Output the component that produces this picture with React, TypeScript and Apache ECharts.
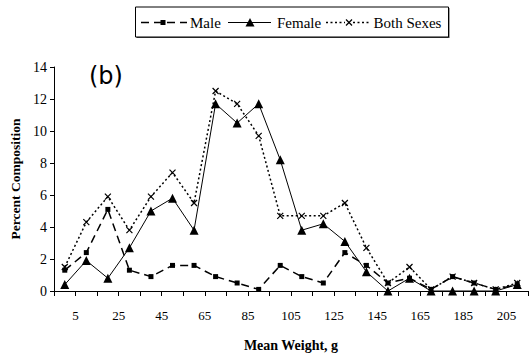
import React, { useEffect, useRef } from "react";
import * as echarts from "echarts";

const categories = [5, 15, 25, 35, 45, 55, 65, 75, 85, 95, 105, 115, 125, 135, 145, 155, 165, 175, 185, 195, 205, 215];
const tickLabels = ["5", "25", "45", "65", "85", "105", "125", "145", "165", "185", "205"];
const seriesNames = ["Male", "Female", "Both Sexes"];
const male = [1.3, 2.4, 5.1, 1.3, 0.9, 1.6, 1.6, 0.9, 0.5, 0.1, 1.6, 0.9, 0.5, 2.4, 1.6, 0.5, 0.8, 0.1, 0.9, 0.5, 0.1, 0.4];
const female = [0.4, 1.9, 0.8, 2.7, 5.0, 5.8, 3.8, 11.7, 10.5, 11.7, 8.2, 3.8, 4.2, 3.1, 1.2, 0.0, 0.8, 0.0, 0.0, 0.0, 0.0, 0.4];
const both = [1.5, 4.3, 5.9, 3.8, 5.9, 7.4, 5.5, 12.5, 11.7, 9.7, 4.7, 4.7, 4.7, 5.5, 2.7, 0.5, 1.5, 0.1, 0.9, 0.5, 0.1, 0.5];

const serif = "Liberation Serif";
const maleDash = [8, 5];
const bothDash = [2, 2.5];
const xPath = "path://M0 0L10 10M10 0L0 10";

export default function App() {
  const ref = useRef<HTMLDivElement>(null);
  useEffect(() => {
    if (!ref.current) return;
    const chart = echarts.init(ref.current, null, { renderer: "svg" });
    const toPts = (arr: number[]) => arr.map((v, i) => [i + 0.5, v]);
    const ly = 22.5;
    const txt = (x: number, s: string) => ({
      type: "text",
      x,
      y: ly,
      style: { text: s, fontFamily: serif, fontSize: 15, fontWeight: "normal", fill: "#000", verticalAlign: "middle", align: "left" },
      z: 4,
    });
    const legendItems = [
      { type: "rect", shape: { x: 136.5, y: 8, width: 313, height: 30 }, style: { fill: "#444" }, z: 1 },
      { type: "rect", shape: { x: 135.5, y: 7, width: 313, height: 30 }, style: { fill: "#fff", stroke: "#000", lineWidth: 1 }, z: 2 },
      // Male
      { type: "line", shape: { x1: 141, y1: ly, x2: 187, y2: ly }, style: { stroke: "#000", lineWidth: 1.5, lineDash: maleDash }, z: 3 },
      { type: "rect", shape: { x: 160.5, y: ly - 2.5, width: 5, height: 5 }, style: { fill: "#000" }, z: 4 },
      txt(190, seriesNames[0]),
      // Female
      { type: "line", shape: { x1: 228, y1: ly, x2: 271, y2: ly }, style: { stroke: "#000", lineWidth: 1 }, z: 3 },
      { type: "polygon", shape: { points: [[250, ly - 4.5], [254.5, ly + 4], [245.5, ly + 4]] }, style: { fill: "#000" }, z: 4 },
      txt(277, seriesNames[1]),
      // Both Sexes
      { type: "line", shape: { x1: 326, y1: ly, x2: 371, y2: ly }, style: { stroke: "#000", lineWidth: 1.5, lineDash: bothDash }, z: 3 },
      { type: "rect", shape: { x: 345, y: ly - 4, width: 8, height: 8 }, style: { fill: "#fff" }, z: 4 },
      { type: "line", shape: { x1: 346, y1: ly - 3, x2: 352, y2: ly + 3 }, style: { stroke: "#000", lineWidth: 1.2 }, z: 5 },
      { type: "line", shape: { x1: 352, y1: ly - 3, x2: 346, y2: ly + 3 }, style: { stroke: "#000", lineWidth: 1.2 }, z: 5 },
      txt(373.5, seriesNames[2]),
    ];
    chart.setOption({
      animation: false,
      backgroundColor: "#fff",
      textStyle: { fontFamily: serif, color: "#000" },
      graphic: [
        ...legendItems,
        { type: "text", left: 89, top: 64, style: { text: "(b)", fontFamily: "DejaVu Sans", fontSize: 24, fill: "#000" } },
      ],
      grid: { left: 54, right: 1, top: 67, bottom: 66 },
      xAxis: {
        type: "value",
        min: 0,
        max: categories.length,
        interval: 1,
        name: "Mean Weight, g",
        nameLocation: "middle",
        nameGap: 47,
        nameTextStyle: { fontFamily: serif, fontWeight: "bold", fontSize: 14, color: "#000" },
        axisLine: { lineStyle: { color: "#000", width: 1 } },
        axisTick: { show: true, length: 5, lineStyle: { color: "#000" } },
        axisLabel: {
          fontFamily: serif,
          fontSize: 13,
          color: "#000",
          margin: 18,
          formatter: (v: number) => (v % 2 === 1 ? tickLabels[(v - 1) / 2] ?? "" : ""),
        },
        splitLine: { show: false },
      },
      yAxis: {
        type: "value",
        min: 0,
        max: 14,
        interval: 2,
        name: "Percent Composition",
        nameLocation: "middle",
        nameGap: 32,
        nameTextStyle: { fontFamily: serif, fontWeight: "bold", fontSize: 13.5, color: "#000" },
        axisLine: { show: true, lineStyle: { color: "#000", width: 1 } },
        axisTick: { show: true, length: 4, lineStyle: { color: "#000" } },
        axisLabel: { fontFamily: serif, fontSize: 14, color: "#000", margin: 7 },
        splitLine: { show: false },
      },
      series: [
        {
          name: seriesNames[0],
          type: "line",
          data: toPts(male),
          symbol: "rect",
          symbolSize: 5,
          itemStyle: { color: "#000" },
          lineStyle: { color: "#000", width: 1.5, type: maleDash },
          z: 3,
        },
        {
          name: seriesNames[1],
          type: "line",
          data: toPts(female),
          symbol: "triangle",
          symbolSize: 9,
          itemStyle: { color: "#000" },
          lineStyle: { color: "#000", width: 1 },
          z: 4,
        },
        {
          name: seriesNames[2],
          type: "line",
          data: toPts(both),
          symbol: xPath,
          symbolSize: 6,
          itemStyle: { color: "rgba(0,0,0,0)", borderColor: "#000", borderWidth: 1.2 },
          lineStyle: { color: "#000", width: 1.5, type: bothDash },
          z: 2,
        },
      ],
    });
    return () => chart.dispose();
  }, []);
  return <div ref={ref} style={{ position: "fixed", left: 0, top: 0, width: 531, height: 357 }} />;
}
